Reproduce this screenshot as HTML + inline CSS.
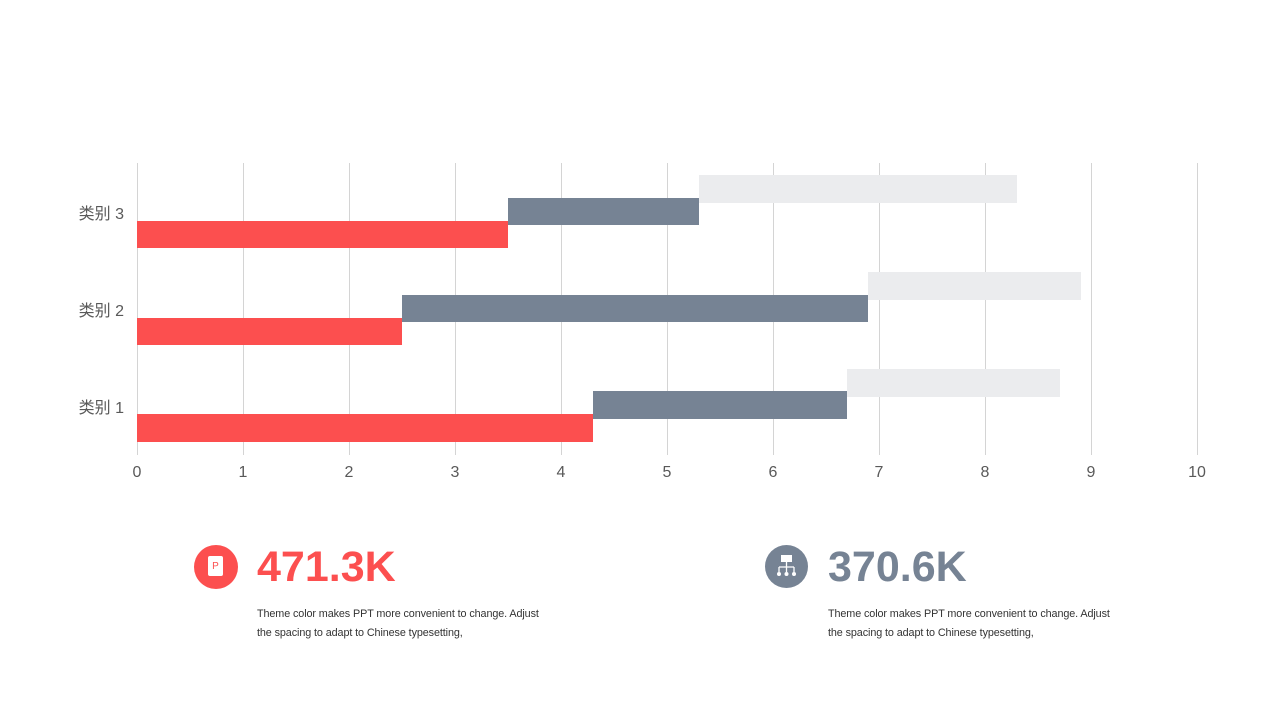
<!DOCTYPE html>
<html><head><meta charset="utf-8"><style>
body{margin:0;width:1280px;height:720px;background:#fff;position:relative;overflow:hidden;font-family:"Liberation Sans","Noto Sans CJK SC",sans-serif}
.a{position:absolute}
.g{position:absolute;top:163px;height:292px;width:1px;background:#d4d4d4}
.t{position:absolute;top:464px;font-size:16px;color:#595959;width:40px;text-align:center;margin-left:-20px}
.c{position:absolute;left:60px;width:64px;text-align:right;font-size:16px;color:#595959}
.r{background:#fc4f4f}.m{background:#768394}.l{background:#ebecee}
.num{position:absolute;top:543px;font-size:43px;font-weight:bold}
.p{position:absolute;top:605px;font-size:10.8px;letter-spacing:-0.1px;line-height:19px;color:#333;width:320px;white-space:nowrap}
</style></head><body>
<div class="g" style="left:137px"></div><div class="g" style="left:243px"></div><div class="g" style="left:349px"></div><div class="g" style="left:455px"></div><div class="g" style="left:561px"></div><div class="g" style="left:667px"></div><div class="g" style="left:773px"></div><div class="g" style="left:879px"></div><div class="g" style="left:985px"></div><div class="g" style="left:1091px"></div><div class="g" style="left:1197px"></div>
<div class="a l" style="left:699px;top:175px;width:318px;height:28px"></div>
<div class="a m" style="left:508px;top:198px;width:191px;height:27px"></div>
<div class="a r" style="left:137px;top:221px;width:371px;height:27px"></div>
<div class="a l" style="left:868px;top:272px;width:213px;height:28px"></div>
<div class="a m" style="left:402px;top:295px;width:466px;height:27px"></div>
<div class="a r" style="left:137px;top:318px;width:265px;height:27px"></div>
<div class="a l" style="left:847px;top:369px;width:213px;height:28px"></div>
<div class="a m" style="left:593px;top:391px;width:254px;height:28px"></div>
<div class="a r" style="left:137px;top:414px;width:456px;height:28px"></div>
<div class="c" style="top:200px">类别 3</div><div class="c" style="top:297px">类别 2</div><div class="c" style="top:394px">类别 1</div>
<div class="t" style="left:137px">0</div><div class="t" style="left:243px">1</div><div class="t" style="left:349px">2</div><div class="t" style="left:455px">3</div><div class="t" style="left:561px">4</div><div class="t" style="left:667px">5</div><div class="t" style="left:773px">6</div><div class="t" style="left:879px">7</div><div class="t" style="left:985px">8</div><div class="t" style="left:1091px">9</div><div class="t" style="left:1197px">10</div>
<div class="a" style="left:194px;top:545px;width:44px;height:44px;border-radius:50%;background:#fc4f4f"></div>
<div class="a" style="left:208px;top:556px;width:15px;height:20px;background:#fff;border-radius:2px;color:#fc4f4f;font-size:10px;text-align:center;line-height:22px">P</div>
<div class="num" style="left:257px;color:#fc4f4f">471.3K</div>
<div class="p" style="left:257px">Theme color makes PPT more convenient to change. Adjust<br>the spacing to adapt to Chinese typesetting,</div>
<div class="a" style="left:765px;top:545px;width:43px;height:43px;border-radius:50%;background:#768394"></div>
<svg class="a" style="left:765px;top:545px" width="43" height="43"><rect x="16" y="10" width="11" height="7" fill="#fff"/><path d="M21.5 17v5M14 22h15M14 22v5M21.5 22v5M29 22v5" stroke="#fff" stroke-width="1.3" fill="none"/><circle cx="14" cy="29" r="2" fill="#fff"/><circle cx="21.5" cy="29" r="2" fill="#fff"/><circle cx="29" cy="29" r="2" fill="#fff"/></svg>
<div class="num" style="left:828px;color:#768394">370.6K</div>
<div class="p" style="left:828px">Theme color makes PPT more convenient to change. Adjust<br>the spacing to adapt to Chinese typesetting,</div>
</body></html>
